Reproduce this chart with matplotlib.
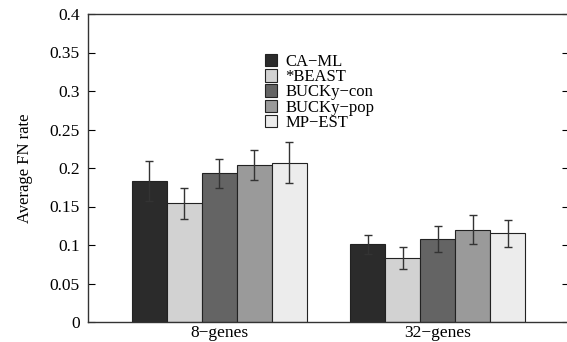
import numpy as np
import matplotlib
matplotlib.use("Agg")
import matplotlib.pyplot as plt

plt.rcParams['font.family'] = ['Liberation Serif', 'DejaVu Serif']

groups = ["8\u2212genes", "32\u2212genes"]
methods = ["CA\u2212ML", "*BEAST", "BUCKy\u2212con", "BUCKy\u2212pop", "MP\u2212EST"]
colors = ["#2b2b2b", "#d2d2d2", "#646464", "#9a9a9a", "#ececec"]

ca_ml = [0.183, 0.101]
beast = [0.154, 0.083]
bucky_con = [0.193, 0.108]
bucky_pop = [0.204, 0.120]
mp_est = [0.207, 0.115]

ca_ml_err = [0.026, 0.0125]
beast_err = [0.020, 0.014]
bucky_con_err = [0.019, 0.017]
bucky_pop_err = [0.019, 0.019]
mp_est_err = [0.027, 0.018]

values = [ca_ml, beast, bucky_con, bucky_pop, mp_est]
errors = [ca_ml_err, beast_err, bucky_con_err, bucky_pop_err, mp_est_err]

fig = plt.figure(figsize=(5.67, 3.42), dpi=100)
ax = fig.add_axes([88 / 567, 20 / 342, 481 / 567, 308 / 342])

x = np.arange(len(groups))
width = 0.16
for i, (name, vals, errs) in enumerate(zip(methods, values, errors)):
    offset = (i - 2) * width
    ax.bar(x + offset, vals, width, color=colors[i], edgecolor="#222222",
           linewidth=0.8, label=name, zorder=2)
    ax.errorbar(x + offset, vals, yerr=errs, fmt="none", ecolor="#333333",
                elinewidth=1.0, capsize=3.2, capthick=1.0, zorder=3)

ax.set_xlim(-0.6, 1.6)
ax.set_ylim(0, 0.4)
ax.set_yticks(np.arange(0, 0.41, 0.05))
ax.set_yticklabels(["0", "0.05", "0.1", "0.15", "0.2", "0.25", "0.3", "0.35", "0.4"])
ax.set_xticks(x)
ax.set_xticklabels(groups)
ax.tick_params(axis="x", length=0, labelsize=12.5, pad=2)
ax.tick_params(axis="y", direction="in", right=True, length=5, labelsize=12.5, pad=6)
ax.set_ylabel("Average FN rate", fontsize=12, labelpad=12)

for side in ["top", "bottom", "left", "right"]:
    ax.spines[side].set_linewidth(1.0)
    ax.spines[side].set_color("#333333")

ax.legend(loc="upper left", bbox_to_anchor=(0.35, 0.897), frameon=False,
          fontsize=12, handlelength=0.75, handleheight=0.75,
          handletextpad=0.5, labelspacing=-0.05, borderpad=0)

fig.savefig("out.png", dpi=100)
